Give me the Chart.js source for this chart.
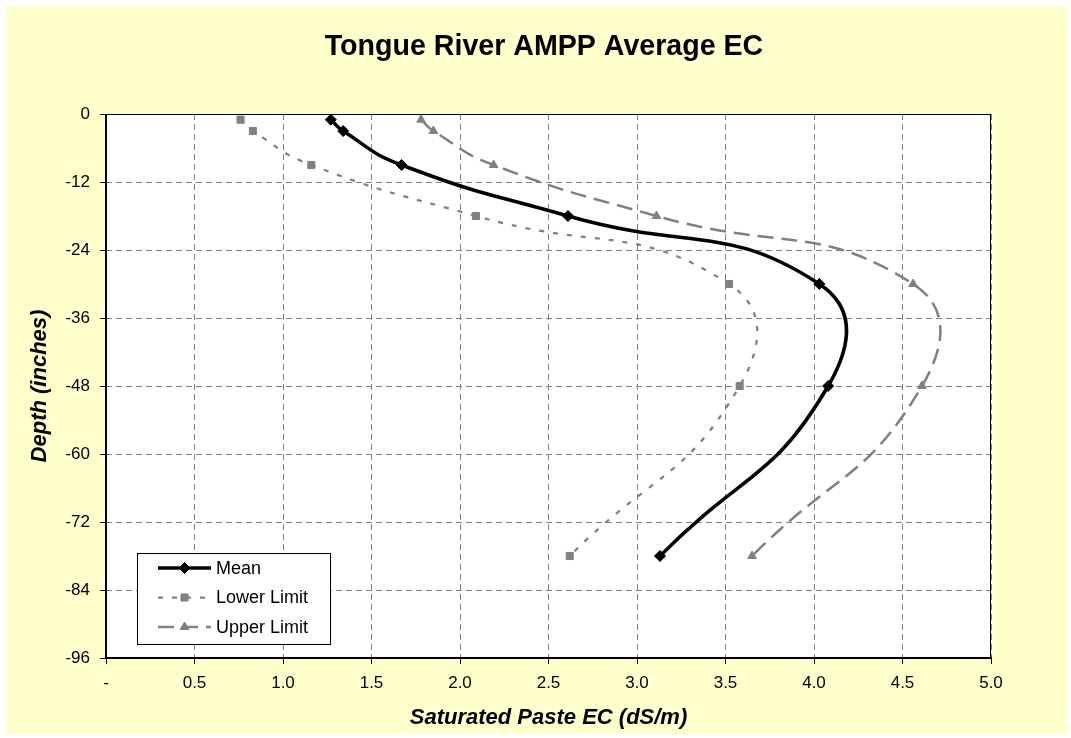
<!DOCTYPE html>
<html><head><meta charset="utf-8">
<script src="https://cdn.jsdelivr.net/npm/chart.js@4.4.0/dist/chart.umd.min.js"></script>
<style>html,body{margin:0;padding:0;background:#fff;}#wrap{width:1071px;height:738px;position:relative}</style>
</head><body><div id="wrap"><canvas id="c" width="1071" height="738"></canvas></div>
<script>
const depths = [-1, -3, -9, -18, -30, -48, -78];
const meanEC = [1.27, 1.34, 1.67, 2.61, 4.03, 4.08, 3.13];
const lowerEC = [0.76, 0.83, 1.16, 2.09, 3.52, 3.58, 2.62];
const upperEC = [1.78, 1.85, 2.19, 3.11, 4.56, 4.61, 3.65];
const seriesNames = ['Mean', 'Lower Limit', 'Upper Limit'];
const chartTitle = 'Tongue River AMPP Average EC';
const xTitle = 'Saturated Paste EC (dS/m)';
const yTitle = 'Depth (inches)';

const FONT = '"Liberation Sans", Arial, sans-serif';
Chart.defaults.font.family = FONT;
Chart.defaults.color = '#000';

function pts(xs) { return depths.map((d, i) => ({ x: xs[i], y: d })); }

function drawMarker(ctx, style, r, x, y, color) {
  ctx.save();
  ctx.fillStyle = color; ctx.strokeStyle = color; ctx.lineWidth = 1; ctx.setLineDash([]);
  ctx.beginPath();
  if (style === 'rectRot') {
    ctx.moveTo(x, y - r); ctx.lineTo(x + r, y); ctx.lineTo(x, y + r); ctx.lineTo(x - r, y);
  } else if (style === 'rect') {
    const s = r * Math.SQRT1_2;
    ctx.rect(x - s, y - s, 2 * s, 2 * s);
  } else {
    ctx.moveTo(x, y - r); ctx.lineTo(x + r * 0.866, y + r / 2); ctx.lineTo(x - r * 0.866, y + r / 2);
  }
  ctx.closePath(); ctx.fill(); ctx.stroke();
  ctx.restore();
}

const decor = {
  id: 'decor',
  beforeDraw(chart) {
    const ctx = chart.ctx, a = chart.chartArea;
    ctx.save();
    ctx.fillStyle = '#fff'; ctx.fillRect(0, 0, chart.width, chart.height);
    ctx.fillStyle = '#FFFFCC'; ctx.fillRect(6, 6, 1061, 728);
    ctx.fillStyle = '#fff'; ctx.fillRect(a.left, a.top, a.right - a.left, a.bottom - a.top);
    ctx.restore();
  },
  beforeDatasetsDraw(chart) {
    const ctx = chart.ctx, a = chart.chartArea;
    ctx.save();
    ctx.strokeStyle = '#000'; ctx.lineWidth = 1; ctx.setLineDash([]);
    ctx.strokeRect(a.left + 0.5, a.top + 0.5, a.right - a.left - 1, a.bottom - a.top);
    ctx.lineWidth = 2;
    ctx.beginPath();
    ctx.moveTo(a.left, a.top); ctx.lineTo(a.left, a.bottom); ctx.lineTo(a.right + 1, a.bottom);
    ctx.stroke();
    ctx.restore();
  },
  afterDraw(chart) {
    const ctx = chart.ctx, a = chart.chartArea;
    ctx.save();
    ctx.fillStyle = '#000';
    ctx.font = 'bold 28.6px ' + FONT;
    ctx.textAlign = 'center'; ctx.textBaseline = 'middle';
    ctx.fillText(chartTitle, 544, 47);
    // legend
    const bx = a.left + 31, by = a.top + 439, bw = 193, bh = 91;
    ctx.fillStyle = '#fff'; ctx.fillRect(bx, by, bw, bh);
    ctx.strokeStyle = '#000'; ctx.lineWidth = 1; ctx.setLineDash([]);
    ctx.strokeRect(bx + 0.5, by + 0.5, bw, bh);
    ctx.font = '18px ' + FONT;
    ctx.textAlign = 'left'; ctx.textBaseline = 'middle';
    chart.data.datasets.forEach((ds, i) => {
      const y = by + 15 + i * 29.5;
      const x0 = bx + 21, x1 = bx + 74;
      ctx.save();
      ctx.strokeStyle = ds.borderColor; ctx.lineWidth = ds.borderWidth;
      ctx.setLineDash(ds.borderDash || []);
      ctx.beginPath(); ctx.moveTo(x0, y); ctx.lineTo(x1, y); ctx.stroke();
      ctx.restore();
      drawMarker(ctx, ds.pointStyle, ds.pointRadius, (x0 + x1) / 2, y, ds.backgroundColor);
      ctx.fillStyle = '#000';
      ctx.fillText(ds.label, bx + 79, y + 1);
    });
    ctx.restore();
  }
};

new Chart(document.getElementById('c'), {
  type: 'scatter',
  data: {
    datasets: [
      { label: seriesNames[0], data: pts(meanEC), showLine: true, borderColor: '#000', backgroundColor: '#000',
        borderWidth: 3.5, pointStyle: 'rectRot', pointRadius: 5.5, pointBorderWidth: 1, tension: 0.5, order: 0 },
      { label: seriesNames[1], data: pts(lowerEC), showLine: true, borderColor: '#808080', backgroundColor: '#808080',
        borderWidth: 2.25, borderDash: [5, 9], pointStyle: 'rect', pointRadius: 5, pointBorderWidth: 1, tension: 0.5, order: 1 },
      { label: seriesNames[2], data: pts(upperEC), showLine: true, borderColor: '#808080', backgroundColor: '#808080',
        borderWidth: 2.5, borderDash: [16, 8], pointStyle: 'triangle', pointRadius: 5, pointBorderWidth: 1, tension: 0.5, order: 2 }
    ]
  },
  options: {
    responsive: false, animation: false, devicePixelRatio: 1,
    layout: { padding: { top: 114, right: 80, left: 0, bottom: 0 } },
    plugins: { legend: { display: false }, title: { display: false }, tooltip: { enabled: false } },
    scales: {
      x: {
        type: 'linear', position: 'bottom', min: 0, max: 5,
        ticks: { stepSize: 0.5, font: { size: 17 }, color: '#000', padding: 9,
                 callback: v => v === 0 ? '-' : v.toFixed(1) },
        grid: { color: '#808080', lineWidth: 1, tickColor: '#000', tickLength: 6, tickBorderDash: [1, 0] },
        border: { display: false, dash: [6, 4] },
        title: { display: true, text: xTitle, color: '#000', font: { size: 22, weight: 'bold', style: 'italic' },
                 padding: { top: 0, bottom: 7 } },
        afterFit: s => { s.height = 80; }
      },
      y: {
        type: 'linear', min: -96, max: 0,
        ticks: { stepSize: 12, font: { size: 17 }, color: '#000', padding: 10 },
        grid: { color: '#808080', lineWidth: 1, tickColor: '#000', tickLength: 6, tickBorderDash: [1, 0] },
        border: { display: false, dash: [6, 4] },
        title: { display: true, text: yTitle, color: '#000', font: { size: 22, weight: 'bold', style: 'italic' },
                 padding: { top: 27, bottom: 0 } },
        afterFit: s => { s.width = 106; }
      }
    }
  },
  plugins: [decor]
});
</script>
</body></html>
